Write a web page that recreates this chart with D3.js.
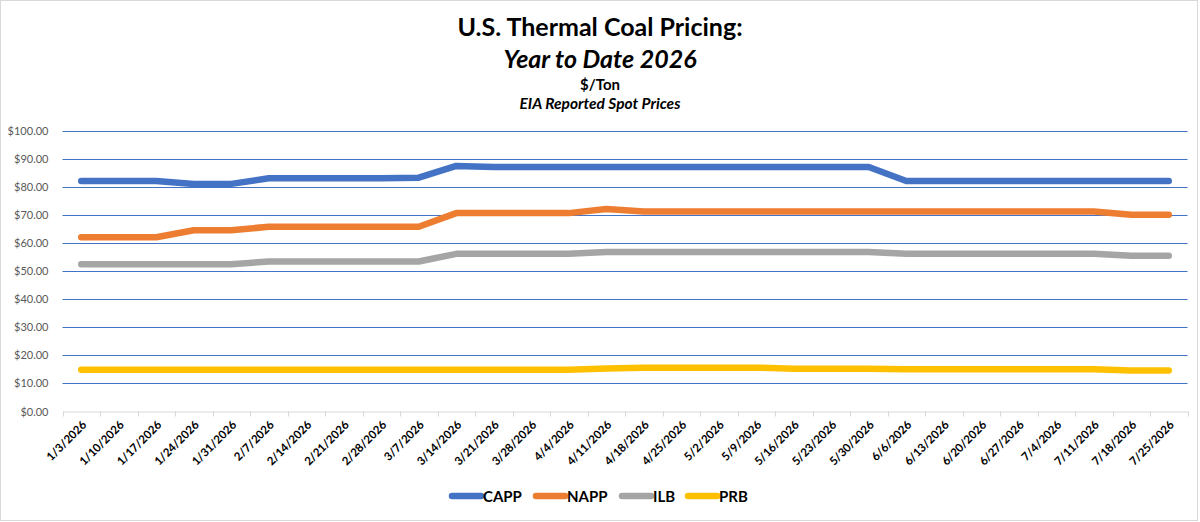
<!DOCTYPE html>
<html>
<head>
<meta charset="utf-8">
<script src="https://cdn.jsdelivr.net/npm/d3@7"></script>
<style>
  body { margin: 0; background: #fff; }
  svg { display: block; font-family: Lato, "Open Sans", sans-serif; }
</style>
</head>
<body>
<svg id="chart" width="1200" height="522"></svg>
<script>
var weeks = ["1/3/2026","1/10/2026","1/17/2026","1/24/2026","1/31/2026","2/7/2026","2/14/2026","2/21/2026","2/28/2026","3/7/2026",
  "3/14/2026","3/21/2026","3/28/2026","4/4/2026","4/11/2026","4/18/2026","4/25/2026","5/2/2026","5/9/2026","5/16/2026",
  "5/23/2026","5/30/2026","6/6/2026","6/13/2026","6/20/2026","6/27/2026","7/4/2026","7/11/2026","7/18/2026","7/25/2026"];

var capp = [82,82,82,81,81,83,83,83,83,83.2, 87.4,87,87,87,87,87,87,87,87,87, 87,87,82,82,82,82,82,82,82,82];
var napp = [62,62,62,64.5,64.5,65.75,65.75,65.75,65.75,65.75, 70.6,70.6,70.6,70.6,72.1,71.2,71.2,71.2,71.2,71.2, 71.2,71.2,71.2,71.2,71.2,71.2,71.2,71.2,70,70];
var ilb  = [52.4,52.4,52.4,52.4,52.4,53.4,53.4,53.4,53.4,53.4, 56.1,56.1,56.1,56.1,56.8,56.8,56.8,56.8,56.8,56.8, 56.8,56.8,56.1,56.1,56.1,56.1,56.1,56.1,55.4,55.4];
var prb  = [14.9,14.9,14.9,14.9,14.9,14.9,14.9,14.9,14.9,14.9, 14.9,14.9,14.9,14.9,15.3,15.6,15.6,15.6,15.6,15.25, 15.25,15.25,15.0,15.0,15.0,15.0,15.0,15.0,14.6,14.6];

var seriesNames = ["CAPP","NAPP","ILB","PRB"];
var seriesColors = ["#4472C4","#ED7D31","#A5A5A5","#FFC000"];
var yTicks = [0,10,20,30,40,50,60,70,80,90,100];

var series = [capp, napp, ilb, prb];

var svg = d3.select("#chart");
var plotLeft = 62.5, plotRight = 1187.5, plotTop = 130.5, plotBottom = 411.5;

// outer border
svg.append("rect").attr("x",0.5).attr("y",0.5).attr("width",1197).attr("height",520)
  .attr("fill","#fff").attr("stroke","#d9d9d9");

// titles
svg.append("text").attr("x",600).attr("y",36).attr("text-anchor","middle")
  .attr("font-size",25).attr("font-weight","bold").text("U.S. Thermal Coal Pricing:");
svg.append("text").attr("x",600).attr("y",68).attr("text-anchor","middle")
  .attr("font-size",25).attr("font-weight","bold").attr("font-style","italic").text("Year to Date 2026");
svg.append("text").attr("x",600).attr("y",90).attr("text-anchor","middle")
  .attr("font-size",15).attr("font-weight","bold").text("$/Ton");
svg.append("text").attr("x",600).attr("y",109).attr("text-anchor","middle")
  .attr("font-size",15.5).attr("font-weight","bold").attr("font-style","italic").text("EIA Reported Spot Prices");

var x = d3.scaleBand().domain(weeks).range([plotLeft, plotRight]);
var y = d3.scaleLinear().domain([0,100]).range([plotBottom, plotTop]);

// gridlines
svg.append("g").selectAll("line").data(yTicks.filter(function (d) { return d > 0; })).enter().append("line")
  .attr("x1",plotLeft).attr("x2",plotRight)
  .attr("y1",function (d) { return Math.round(y(d)) + 0.5; })
  .attr("y2",function (d) { return Math.round(y(d)) + 0.5; })
  .attr("stroke","#4472C4").attr("stroke-width",1);

// y axis labels
var yAxis = svg.append("g").attr("transform","translate(" + plotLeft + ",0)")
  .call(d3.axisLeft(y).tickValues(yTicks).tickSize(0).tickPadding(14)
    .tickFormat(function (d) { return "$" + d.toFixed(2); }));
yAxis.select(".domain").remove();
yAxis.selectAll("text").attr("font-size",11).attr("fill","#595959").attr("font-family","Lato, sans-serif");

// x axis
var xAxis = svg.append("g").attr("transform","translate(0," + plotBottom + ")")
  .call(d3.axisBottom(x).tickSize(0).tickPadding(0));
xAxis.select(".domain").attr("stroke","#d9d9d9");
xAxis.selectAll(".tick text")
  .attr("font-size",11.5).attr("font-weight","bold").attr("fill","#000").attr("font-family","Lato, sans-serif")
  .attr("text-anchor","end").attr("dy",0).attr("y",0)
  .attr("transform","translate(6,14) rotate(-45)");
// tick marks at band edges
svg.append("g").selectAll("line").data(d3.range(weeks.length + 1)).enter().append("line")
  .attr("x1",function (i) { return Math.round(plotLeft + i * x.step()) + 0.5; })
  .attr("x2",function (i) { return Math.round(plotLeft + i * x.step()) + 0.5; })
  .attr("y1",plotBottom).attr("y2",plotBottom + 5)
  .attr("stroke","#d9d9d9");

// lines
var line = d3.line()
  .x(function (d, i) { return x(weeks[i]) + x.bandwidth() / 2; })
  .y(function (d) { return y(d); });

svg.append("g").selectAll("path").data(series).enter().append("path")
  .attr("d", line)
  .attr("fill","none")
  .attr("stroke",function (d, i) { return seriesColors[i]; })
  .attr("stroke-width",6.5)
  .attr("stroke-linecap","round")
  .attr("stroke-linejoin","round");

// legend
var legendX = [452, 536, 622, 688];
var lg = svg.append("g").selectAll("g").data(seriesNames).enter().append("g")
  .attr("transform",function (d, i) { return "translate(" + legendX[i] + ",496)"; });
lg.append("line").attr("x1",0).attr("x2",29).attr("y1",0).attr("y2",0)
  .attr("stroke",function (d, i) { return seriesColors[i]; })
  .attr("stroke-width",6.5).attr("stroke-linecap","round");
lg.append("text").attr("x",31).attr("y",5.5).attr("font-size",15).attr("font-weight","bold")
  .text(function (d) { return d; });
</script>
</body>
</html>
